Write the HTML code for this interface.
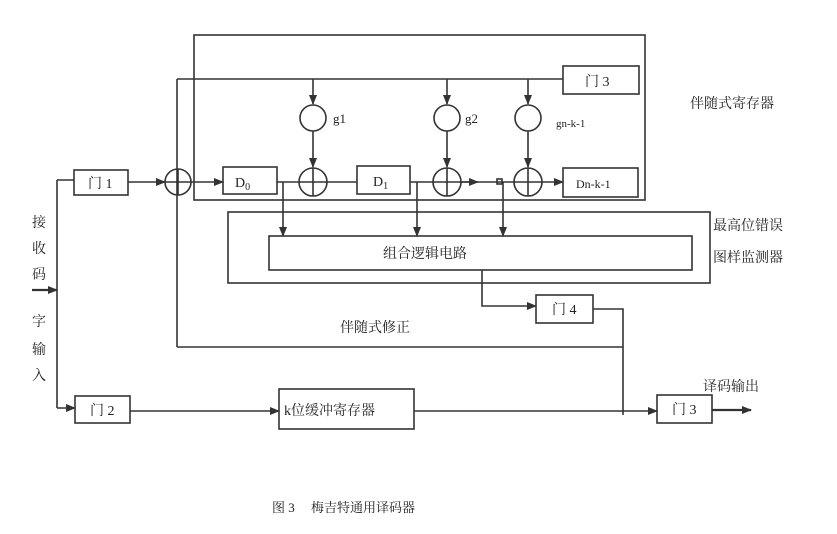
<!DOCTYPE html>
<html><head><meta charset="utf-8"><style>
html,body{margin:0;padding:0;background:#fff;}
svg{display:block}
text{font-family:"Liberation Serif","Noto Serif CJK SC","Noto Sans CJK SC",serif;fill:#222}
</style></head><body>
<svg width="837" height="534" viewBox="0 0 837 534" xmlns="http://www.w3.org/2000/svg">
<defs><marker id="a" markerWidth="10" markerHeight="8" refX="9" refY="4" orient="auto" markerUnits="userSpaceOnUse"><path d="M0,0 L10,4 L0,8 Z" fill="#333"/></marker></defs>
<g stroke="#333" stroke-width="1.6" fill="none">
<!-- syndrome register outer -->
<rect x="194" y="35" width="451" height="165"/>
<!-- gate3 top -->
<rect x="563" y="66" width="76" height="28"/>
<line x1="177" y1="79" x2="563" y2="79"/>
<line x1="177" y1="79" x2="177" y2="347"/>
<line x1="177" y1="347" x2="623" y2="347"/>
<!-- arrows to g circles -->
<line x1="313" y1="79" x2="313" y2="104" marker-end="url(#a)"/>
<line x1="447" y1="79" x2="447" y2="104" marker-end="url(#a)"/>
<line x1="528" y1="79" x2="528" y2="104" marker-end="url(#a)"/>
<circle cx="313" cy="118" r="13"/><circle cx="447" cy="118" r="13"/><circle cx="528" cy="118" r="13"/>
<line x1="313" y1="131" x2="313" y2="167" marker-end="url(#a)"/>
<line x1="447" y1="131" x2="447" y2="167" marker-end="url(#a)"/>
<line x1="528" y1="131" x2="528" y2="167" marker-end="url(#a)"/>
<!-- XOR circles -->
<circle cx="178" cy="182" r="13"/><line x1="165" y1="182" x2="191" y2="182"/><line x1="178" y1="169" x2="178" y2="195"/>
<circle cx="313" cy="182" r="14"/><line x1="299" y1="182" x2="327" y2="182"/><line x1="313" y1="168" x2="313" y2="196"/>
<circle cx="447" cy="182" r="14"/><line x1="433" y1="182" x2="461" y2="182"/><line x1="447" y1="168" x2="447" y2="196"/>
<circle cx="528" cy="182" r="14"/><line x1="514" y1="182" x2="542" y2="182"/><line x1="528" y1="168" x2="528" y2="196"/>
<!-- registers -->
<rect x="223" y="167" width="54" height="27"/>
<rect x="357" y="166" width="53" height="28"/>
<rect x="563" y="168" width="75" height="29"/>
<line x1="191" y1="182" x2="223" y2="182" marker-end="url(#a)"/>
<line x1="277" y1="182" x2="299" y2="182"/>
<line x1="327" y1="182" x2="357" y2="182"/>
<line x1="410" y1="182" x2="433" y2="182"/>
<line x1="461" y1="182" x2="514" y2="182"/>
<path d="M461,182 L478,182" marker-end="url(#a)"/>
<line x1="542" y1="182" x2="563" y2="182" marker-end="url(#a)"/>
<rect x="497" y="179" width="5" height="5"/>
<!-- taps -->
<line x1="283" y1="182" x2="283" y2="236" marker-end="url(#a)"/>
<line x1="417" y1="182" x2="417" y2="236" marker-end="url(#a)"/>
<line x1="503" y1="182" x2="503" y2="236" marker-end="url(#a)"/>
<!-- detector -->
<rect x="228" y="212" width="482" height="71"/>
<rect x="269" y="236" width="423" height="34"/>
<path d="M482,270 L482,306 L536,306" marker-end="url(#a)"/>
<rect x="536" y="295" width="57" height="28"/>
<path d="M593,309 L623,309 L623,415"/>
<!-- left input -->
<rect x="74" y="170" width="54" height="25"/>
<line x1="57" y1="180" x2="57" y2="408"/>
<line x1="57" y1="180" x2="74" y2="180"/>
<line x1="128" y1="182" x2="165" y2="182" marker-end="url(#a)"/>
<line x1="32" y1="290" x2="57" y2="290" marker-end="url(#a)" stroke-width="2.2"/>
<line x1="57" y1="408" x2="75" y2="408" marker-end="url(#a)"/>
<rect x="75" y="396" width="55" height="27"/>
<line x1="130" y1="411" x2="279" y2="411" marker-end="url(#a)"/>
<rect x="279" y="389" width="135" height="40"/>
<line x1="414" y1="411" x2="657" y2="411" marker-end="url(#a)"/>
<rect x="657" y="395" width="55" height="28"/>
<line x1="712" y1="410" x2="751" y2="410" marker-end="url(#a)" stroke-width="2.2"/>
</g>
<g font-size="14">
<text x="585" y="86">门 3</text>
<text x="333" y="123" font-size="13">g1</text>
<text x="465" y="123" font-size="13">g2</text>
<text x="556" y="127" font-size="11">gn-k-1</text>
<text x="235" y="187">D<tspan font-size="10" dy="3">0</tspan></text>
<text x="373" y="186">D<tspan font-size="10" dy="3">1</tspan></text>
<text x="576" y="188" font-size="12">Dn-k-1</text>
<text x="88" y="188">门 1</text>
<text x="90" y="415">门 2</text>
<text x="552" y="314">门 4</text>
<text x="672" y="414">门 3</text>
<text x="383" y="258">组合逻辑电路</text>
<text x="284" y="415">k位缓冲寄存器</text>
<text x="340" y="332">伴随式修正</text>
<text x="703" y="391">译码输出</text>
<text x="690" y="108">伴随式寄存器</text>
<text x="713" y="230">最高位错误</text>
<text x="713" y="262">图样监测器</text>
<text x="32" y="227">接</text><text x="32" y="253">收</text><text x="32" y="279">码</text>
<text x="32" y="326">字</text><text x="32" y="354">输</text><text x="32" y="380">入</text>
<text x="272" y="512" font-size="13">图 3　 梅吉特通用译码器</text>
</g>
</svg>
</body></html>
